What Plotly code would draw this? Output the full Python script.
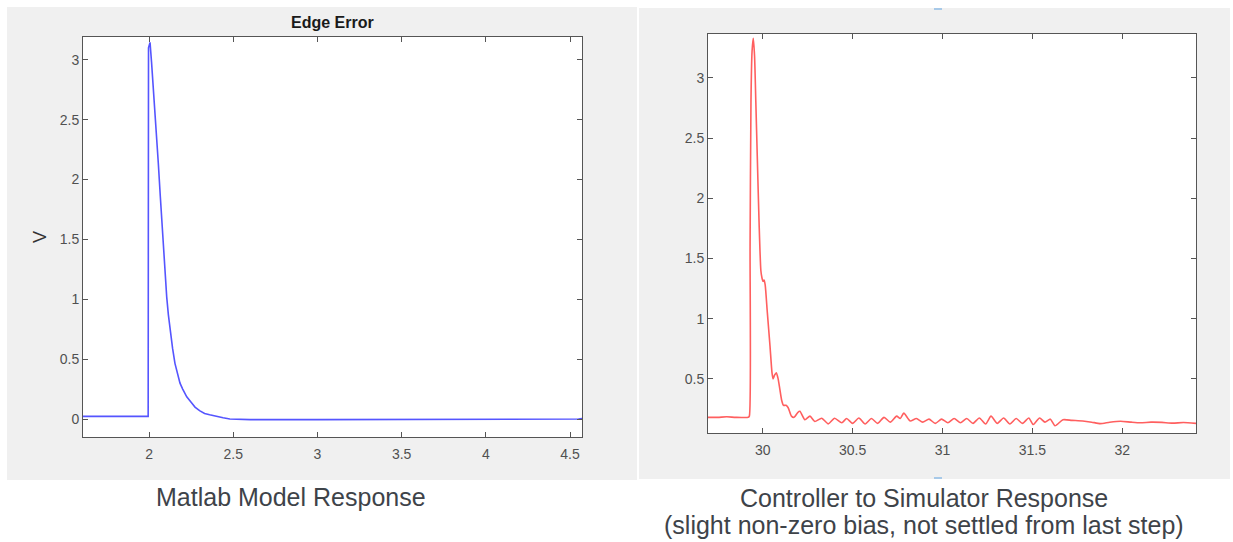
import plotly.graph_objects as go

W, H = 1233, 542

# ---- Left: Matlab model response ----
model_t = [1.608, 1.8, 1.995, 1.997, 2.006, 2.015, 2.03, 2.042, 2.055, 2.067, 2.079, 2.092,
           2.105, 2.115, 2.125, 2.14, 2.154, 2.17, 2.184, 2.20, 2.224, 2.25, 2.273, 2.30,
           2.33, 2.36, 2.40, 2.44, 2.48, 2.55, 2.6, 3.0, 3.5, 4.0, 4.5, 4.55, 4.571]
model_v = [0.022, 0.022, 0.022, 3.1, 3.145, 2.98, 2.69, 2.42, 2.14, 1.86, 1.58, 1.29,
           1.02, 0.87, 0.744, 0.59, 0.465, 0.37, 0.30, 0.25, 0.186, 0.14, 0.10, 0.07,
           0.047, 0.035, 0.02, 0.01, 0.0, -0.003, -0.005, -0.005, -0.004, -0.003, -0.003, 0.0, 0.005]

# ---- Right: controller to simulator response ----
sim_t = [29.696, 29.75, 29.8, 29.85, 29.92, 29.926, 29.930, 29.935, 29.941, 29.948,
         29.955, 29.962, 29.970, 29.980, 29.990, 29.996, 30.002, 30.008, 30.014, 30.026,
         30.041, 30.052, 30.058, 30.066, 30.076, 30.086, 30.096, 30.106, 30.116, 30.130,
         30.142, 30.16, 30.175, 30.195, 30.207, 30.235, 30.263, 30.29, 30.328, 30.365,
         30.40, 30.44, 30.467, 30.50, 30.535, 30.57, 30.605, 30.64, 30.675, 30.71,
         30.745, 30.765, 30.785, 30.82, 30.855, 30.89, 30.925, 30.96, 30.995, 31.03,
         31.065, 31.10, 31.135, 31.17, 31.205, 31.24, 31.27, 31.305, 31.34, 31.375,
         31.41, 31.445, 31.48, 31.505, 31.54, 31.57, 31.60, 31.626, 31.67, 31.72,
         31.78, 31.83, 31.877, 31.93, 31.99, 32.05, 32.10, 32.16, 32.22, 32.28,
         32.34, 32.41]
sim_v = [0.18, 0.18, 0.185, 0.18, 0.18, 0.19, 1.6, 2.8, 3.22, 3.33,
         3.18, 2.8, 2.35, 1.8, 1.40, 1.34, 1.31, 1.32, 1.28, 1.05,
         0.77, 0.55, 0.50, 0.53, 0.55, 0.50, 0.41, 0.32, 0.28, 0.28,
         0.26, 0.19, 0.18, 0.22, 0.23, 0.16, 0.19, 0.145, 0.173, 0.126,
         0.173, 0.135, 0.17, 0.13, 0.175, 0.125, 0.17, 0.13, 0.18, 0.14,
         0.19, 0.17, 0.215, 0.15, 0.17, 0.14, 0.165, 0.13, 0.165, 0.135,
         0.17, 0.135, 0.17, 0.13, 0.175, 0.125, 0.19, 0.13, 0.175, 0.125,
         0.17, 0.13, 0.175, 0.12, 0.175, 0.14, 0.165, 0.11, 0.16, 0.155,
         0.15, 0.14, 0.128, 0.14, 0.148, 0.14, 0.135, 0.14, 0.138, 0.132,
         0.137, 0.13]

left_xticks = [2, 2.5, 3, 3.5, 4, 4.5]
left_yticks = [0, 0.5, 1, 1.5, 2, 2.5, 3]
right_xticks = [30, 30.5, 31, 31.5, 32]
right_yticks = [0.5, 1, 1.5, 2, 2.5, 3]

FONT = "Liberation Sans, Arial, sans-serif"


def px(x):
    return x / W


def py(y):
    return 1 - y / H


fig = go.Figure()
fig.add_trace(go.Scatter(x=model_t, y=model_v, mode="lines",
                         line=dict(color="rgb(85,85,255)", width=1.6),
                         xaxis="x", yaxis="y", showlegend=False, hoverinfo="skip"))
fig.add_trace(go.Scatter(x=sim_t, y=sim_v, mode="lines",
                         line=dict(color="rgb(255,95,95)", width=1.6, shape="spline", smoothing=0.6),
                         xaxis="x2", yaxis="y2", showlegend=False, hoverinfo="skip"))

axis_common = dict(showgrid=False, zeroline=False, showline=True, linecolor="#555555",
                   linewidth=1, mirror="allticks", ticks="inside", ticklen=5,
                   tickcolor="#555555",
                   tickfont=dict(family=FONT, size=14, color="#505050"))


def rect(x0, x1, y0, y1, color):
    return dict(type="rect", xref="paper", yref="paper", x0=px(x0), x1=px(x1),
                y0=py(y1), y1=py(y0), fillcolor=color, line=dict(width=0), layer="below")


def note(text, x, y, size, color, angle=0):
    return dict(text=text, x=px(x), y=py(y), xref="paper", yref="paper",
                xanchor="center", yanchor="middle", showarrow=False, textangle=angle,
                font=dict(family=FONT, size=size, color=color))


fig.update_layout(
    width=W, height=H,
    margin=dict(l=0, r=0, t=0, b=0),
    paper_bgcolor="white",
    plot_bgcolor="white",
    xaxis=dict(domain=[px(83), px(582)], range=[1.608, 4.571], tickvals=left_xticks,
               ticktext=[f"{v:g}" for v in left_xticks], anchor="y", ticklabelstandoff=4,
               **axis_common),
    yaxis=dict(domain=[py(437), py(37)], range=[-0.15, 3.19], tickvals=left_yticks,
               ticktext=[f"{v:g}" for v in left_yticks], anchor="x", **axis_common),
    xaxis2=dict(domain=[px(708), px(1196)], range=[29.696, 32.41], tickvals=right_xticks,
                ticktext=[f"{v:g}" for v in right_xticks], anchor="y2", ticklabelstandoff=4,
                **axis_common),
    yaxis2=dict(domain=[py(433), py(34)], range=[0.05, 3.365], tickvals=right_yticks,
                ticktext=[f"{v:g}" for v in right_yticks], anchor="x2", **axis_common),
    shapes=[
        rect(7, 637, 7, 480, "#f0f0f0"),
        rect(639, 1230, 8, 479, "#f0f0f0"),
        rect(83, 582, 37, 437, "white"),
        rect(708, 1196, 34, 433, "white"),
        dict(type="line", xref="paper", yref="paper", x0=px(934), x1=px(942), y0=py(9), y1=py(9),
             line=dict(color="#8fbce6", width=1.5)),
        dict(type="line", xref="paper", yref="paper", x0=px(934), x1=px(942), y0=py(478), y1=py(478),
             line=dict(color="#8fbce6", width=1.5)),
    ],
    annotations=[
        note("<b>Edge Error</b>", 332, 23, 16, "#1a1a1a"),
        note("V", 40, 237, 18, "#333333", angle=-90),
        note("Matlab Model Response", 291, 497, 25, "#3e4349"),
        note("Controller to Simulator Response", 924, 498, 25, "#3e4349"),
        note("(slight non-zero bias, not settled from last step)", 924, 525, 25, "#3e4349"),
    ],
)

fig.write_html("out.html", config={"displayModeBar": False},
               post_script="document.body.style.margin='0';document.body.style.overflow='hidden';")
